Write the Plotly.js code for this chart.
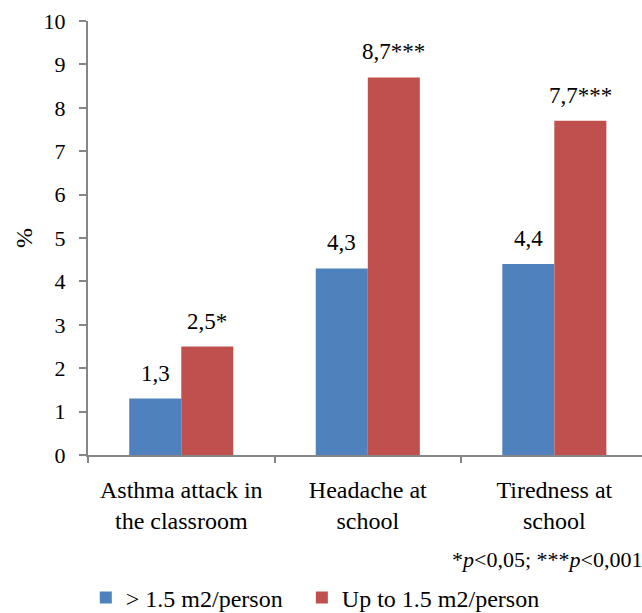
<!DOCTYPE html>
<html><head><meta charset="utf-8">
<script src="https://cdn.plot.ly/plotly-3.0.1.min.js"></script>
<style>body{margin:0;padding:0;background:#fff}#chart{width:642px;height:613px}</style>
</head><body><div id="chart"></div>
<script>
const categories = ["Asthma attack in<br>the classroom", "Headache at<br>school", "Tiredness at<br>school"];
const seriesNames = ["> 1.5 m2/person", "Up to 1.5 m2/person"];
const over15 = [1.3, 4.3, 4.4];
const upTo15 = [2.5, 8.7, 7.7];
const overStars = ["", "", ""];
const upToStars = ["*", "***", "***"];
const yTicks = [0,1,2,3,4,5,6,7,8,9,10];

const font = "'Liberation Serif', 'Times New Roman', serif";
const idx = categories.map((c,i)=>i);

const traces = [
  {type:'bar', x: categories, y: over15, name: seriesNames[0], marker:{color:'#4f81bd'}, hoverinfo:'none', legend:'legend'},
  {type:'bar', x: categories, y: upTo15, name: seriesNames[1], marker:{color:'#c0504d'}, hoverinfo:'none', legend:'legend2'}
];

const fmt = v => v.toFixed(1).replace('.', ',');
const annotations = [];
idx.forEach(i=>{
  annotations.push({x:i, y:over15[i], xref:'x', yref:'y', xshift:-26, yshift:11, yanchor:'bottom',
    text: fmt(over15[i]) + overStars[i], showarrow:false, font:{family:font,size:23,color:'#000'}});
  annotations.push({x:i, y:upTo15[i], xref:'x', yref:'y', xshift:26, yshift:11, yanchor:'bottom',
    text: fmt(upTo15[i]) + upToStars[i], showarrow:false, font:{family:font,size:23,color:'#000'}});
});
annotations.push({xref:'paper', yref:'paper', x:1.003, xanchor:'right', y:-0.24, yanchor:'middle',
  text:'*<i>p</i><0,05; ***<i>p</i><0,001', showarrow:false, font:{family:font,size:22,color:'#000'}});

const legendBase = {orientation:'h', xanchor:'left', y:-0.329, yanchor:'middle',
  font:{family:font,size:24,color:'#000'}, itemwidth:30};

const layout = {
  width:642, height:613,
  margin:{l:88, r:0, t:21, b:158, autoexpand:false},
  paper_bgcolor:'#fff', plot_bgcolor:'#fff',
  barmode:'group', bargap:0.442, bargroupgap:0,
  font:{family:font, size:20, color:'#000'},
  showlegend:true,
  legend:Object.assign({}, legendBase, {x:-0.004}),
  legend2:Object.assign({}, legendBase, {x:0.386}),
  xaxis:{type:'category', range:[-0.5, 2.47], automargin:false,
    showline:true, linecolor:'#868686', linewidth:2, ticks:'outside', tickson:'boundaries',
    ticklen:6, tickwidth:2, tickcolor:'#868686', showgrid:false, zeroline:false,
    ticklabelstandoff:12,
    tickfont:{family:font,size:24,color:'#000'}, fixedrange:true},
  yaxis:{range:[0,10], tickvals:yTicks, ticks:'outside', ticklen:7, tickwidth:2, tickcolor:'#868686',
    showline:true, linecolor:'#868686', linewidth:2, showgrid:false, zeroline:false, automargin:false,
    ticklabelstandoff:9,
    tickfont:{family:font,size:22,color:'#000'},
    title:{text:'%', font:{family:font,size:24,color:'#000'}, standoff:4}},
  annotations: annotations
};
Plotly.newPlot('chart', traces, layout, {displayModeBar:false, staticPlot:true});
</script></body></html>
